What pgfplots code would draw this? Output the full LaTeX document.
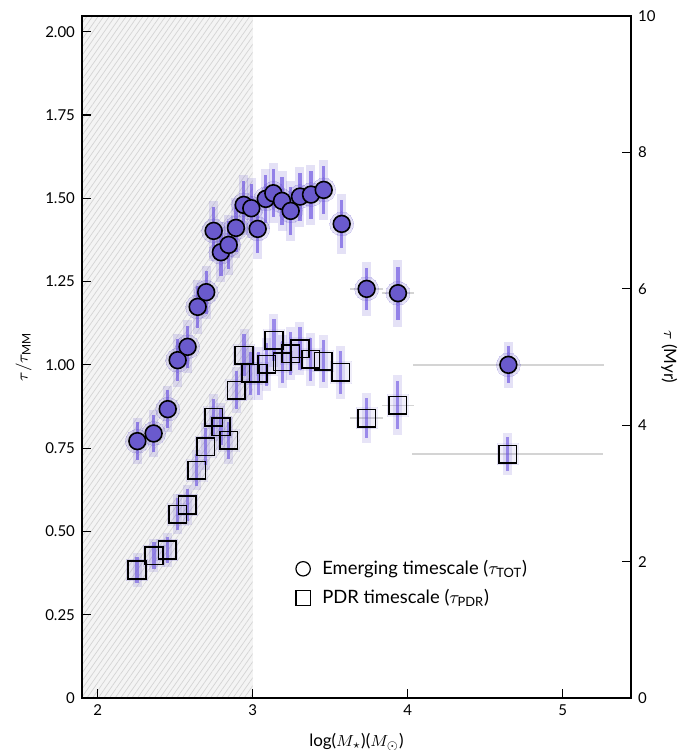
\documentclass[border=0pt]{standalone}
\usepackage{amsmath}
\usepackage{fontspec}
\setmainfont{Lato}
\usepackage{pgfplots}
\pgfplotsset{compat=1.18}
\usepackage{pgfplotstable}
\usetikzlibrary{patterns.meta}

\definecolor{mypurple}{RGB}{106,90,205}
\definecolor{barpurple}{RGB}{104,78,225}
\definecolor{hatchbg}{RGB}{244,244,244}
\definecolor{hatchln}{RGB}{212,212,212}
\definecolor{xerr}{RGB}{212,212,212}

\pgfplotstableread{
x y ey
2.256 0.771 0.07
2.361 0.794 0.07
2.452 0.867 0.07
2.516 1.014 0.08
2.580 1.054 0.08
2.645 1.174 0.08
2.700 1.218 0.08
2.748 1.402 0.09
2.795 1.338 0.09
2.845 1.360 0.09
2.892 1.411 0.09
2.942 1.480 0.09
2.991 1.470 0.09
3.032 1.408 0.09
3.084 1.498 0.09
3.133 1.515 0.09
3.189 1.492 0.09
3.245 1.462 0.09
3.305 1.505 0.09
3.376 1.511 0.09
3.458 1.525 0.09
3.574 1.423 0.09
3.735 1.228 0.08
3.937 1.215 0.10
4.649 1.000 0.07
}\circdata

\pgfplotstableread{
x y ey
2.254 0.384 0.05
2.363 0.427 0.05
2.449 0.444 0.05
2.516 0.551 0.06
2.578 0.579 0.06
2.640 0.683 0.06
2.697 0.754 0.07
2.748 0.842 0.07
2.795 0.814 0.07
2.845 0.773 0.07
2.894 0.924 0.07
2.944 1.029 0.08
2.987 0.974 0.08
3.036 0.974 0.08
3.090 1.001 0.08
3.137 1.074 0.08
3.190 1.009 0.08
3.245 1.034 0.08
3.305 1.049 0.08
3.374 1.016 0.08
3.455 1.011 0.08
3.568 0.977 0.08
3.735 0.840 0.075
3.935 0.878 0.09
4.645 0.732 0.063
}\sqdata

\pgfplotstableread{
x y ex
3.735 1.228 0.108
3.937 1.215 0.103
4.649 1.000 0.615
3.735 0.840 0.108
3.935 0.878 0.103
4.645 0.732 0.615
}\xerrdata

\pgfplotsset{
  ebar/.style n args={3}{draw=none, mark=none, forget plot,
    error bars/.cd, y dir=both, y explicit, error mark=none,
    error bar style={draw=#1, line width=#2, opacity=#3}},
}

\begin{document}
\begin{tikzpicture}[font=\fontsize{7.5}{9}\selectfont]
\begin{axis}[name=ax, scale only axis, width=274.5pt, height=341pt,
  xmin=1.899, xmax=5.44, ymin=0, ymax=2.047,
  axis on top,
  xtick={2,3,4,5}, ytick={0,0.25,0.5,0.75,1,1.25,1.5,1.75,2},
  yticklabels={0,0.25,0.50,0.75,1.00,1.25,1.50,1.75,2.00},
  xtick pos=lower, ytick pos=left, tick align=inside,
  major tick length=4.5pt,
  axis line style={line width=0.6pt}, every tick/.style={line width=0.6pt, black},
  /pgf/number format/assume math mode=true,
  xlabel={log($M_\star$)($M_\odot$)},
  ylabel={$\tau/\tau_{\text{MM}}$},
  label style={font=\fontsize{8.5}{10}\selectfont},
  xlabel style={yshift=-2pt},
  legend style={draw=none, fill=none, at={(0.378,0.168)}, anchor=west,
    font=\fontsize{9.2}{11}\selectfont, row sep=2pt},
  legend cell align=left,
  clip=true]
% hatched region
\addplot[draw=none, fill=hatchbg, forget plot] coordinates {(1.899,0) (3,0) (3,2.047) (1.899,2.047)} -- cycle;
\addplot[draw=none, pattern={Lines[angle=55, distance=2.3pt, line width=0.35pt]}, pattern color=hatchln, forget plot] coordinates {(1.899,0) (3,0) (3,2.047) (1.899,2.047)} -- cycle;
% x error lines
\addplot[draw=none, mark=none, forget plot, error bars/.cd, x dir=both, x explicit, error mark=none,
  error bar style={draw=xerr, line width=0.8pt}] table[x=x, y=y, x error=ex] {\xerrdata};
% halos and error bars, circles
\addplot[only marks, mark=*, mark size=6pt, mark options={draw=mypurple, fill=mypurple, opacity=0.18, line width=0pt}, forget plot] table[x=x, y=y] {\circdata};
\addplot[ebar={mypurple}{4.5pt}{0.18}] table[x=x, y=y, y error=ey] {\circdata};
\addplot[ebar={barpurple}{1.6pt}{0.65}] table[x=x, y=y, y error expr=\thisrow{ey}*0.8] {\circdata};
% halos and error bars, squares
\addplot[only marks, mark=square*, mark size=5.3pt, mark options={draw=mypurple, fill=mypurple, opacity=0.10, line width=0pt}, forget plot] table[x=x, y=y] {\sqdata};
\addplot[ebar={mypurple}{4.5pt}{0.16}] table[x=x, y=y, y error=ey] {\sqdata};
\addplot[ebar={barpurple}{1.6pt}{0.6}] table[x=x, y=y, y error expr=\thisrow{ey}*0.8] {\sqdata};
% markers
\addplot[only marks, mark=square, mark size=4.4pt, mark options={draw=black, line width=0.8pt}, forget plot] table[x=x, y=y] {\sqdata};
\addplot[only marks, mark=*, mark size=4.2pt, mark options={draw=black, fill=mypurple, line width=0.8pt}, forget plot] table[x=x, y=y] {\circdata};
% legend
\addlegendimage{only marks, mark=o, mark size=3.6pt, mark options={draw=black, line width=0.6pt}}
\addlegendentry{\hspace{4pt}Emerging timescale ($\tau_{\text{TOT}}$)}
\addlegendimage{only marks, mark=square, mark size=3.6pt, mark options={draw=black, line width=0.6pt}}
\addlegendentry{\hspace{4pt}PDR timescale ($\tau_{\text{PDR}}$)}
\end{axis}
\begin{axis}[scale only axis, width=274.5pt, height=341pt,
  xmin=1.899, xmax=5.44, ymin=0, ymax=10,
  axis x line=none, axis y line*=right,
  ytick={0,2,4,6,8,10}, tick align=inside, major tick length=4.5pt,
  axis line style={line width=0.6pt}, every tick/.style={line width=0.6pt, black},
  /pgf/number format/assume math mode=true,
  ylabel={$\tau$ (Myr)},
  ylabel style={rotate=180, yshift=-4pt, font=\fontsize{8.5}{10}\selectfont}]
\addplot[draw=none, forget plot] coordinates {(2,0)};
\end{axis}
\pgfresetboundingbox
\path (ax.south west) ++(-41pt,-26pt) rectangle ++(340.5pt,375pt);
\end{tikzpicture}
\end{document}
